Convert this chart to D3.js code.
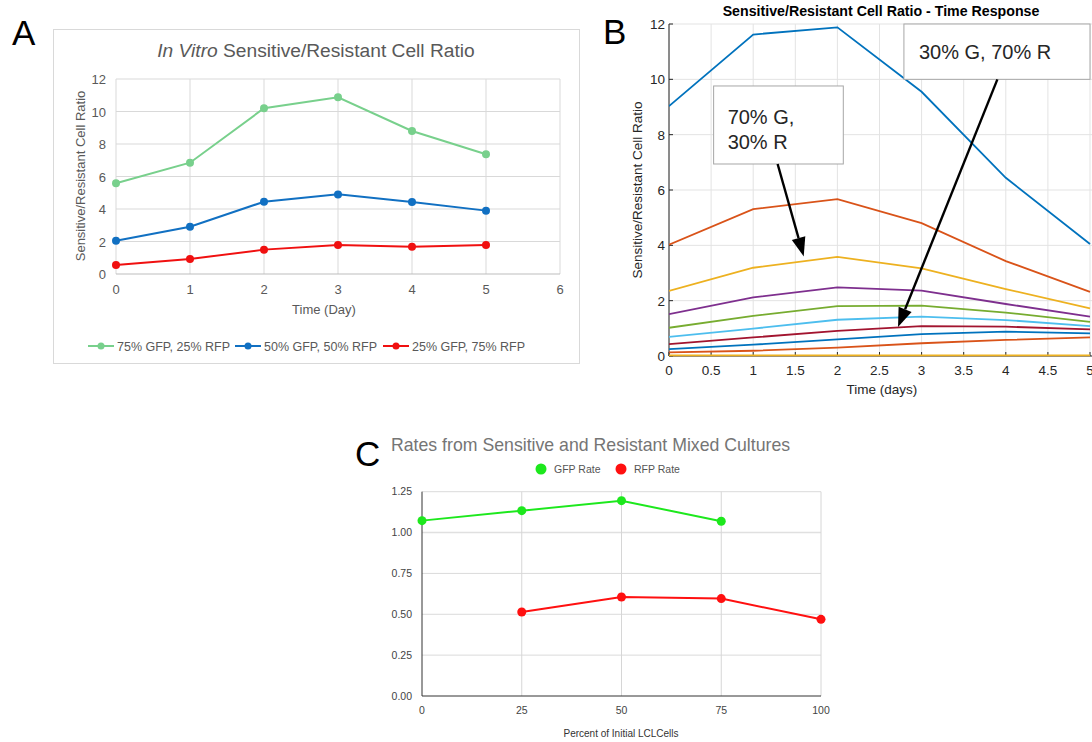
<!DOCTYPE html>
<html>
<head>
<meta charset="utf-8">
<script src="https://cdn.jsdelivr.net/npm/d3@7.9.0/dist/d3.min.js"></script>
<style>
  body { margin: 0; background: #fff; }
  svg { display: block; font-family: "Liberation Sans", Arial, sans-serif; }
</style>
</head>
<body>
<svg id="fig" width="1092" height="742"></svg>
<script>
// ---- panel A data (Google Sheets style chart)
const daysA = [0, 1, 2, 3, 4, 5];
const gfp75 = [5.58, 6.85, 10.2, 10.87, 8.8, 7.37];
const gfp50 = [2.05, 2.91, 4.45, 4.9, 4.43, 3.9];
const gfp25 = [0.55, 0.92, 1.5, 1.78, 1.68, 1.78];
const seriesNamesA = ['75% GFP, 25% RFP', '50% GFP, 50% RFP', '25% GFP, 75% RFP'];
const colorsA = ['#78d08c', '#1170c2', '#f01010'];

// ---- panel B data (MATLAB style, one line per starting mix)
const daysB = [0, 1, 2, 3, 4, 5];
const mix90 = [9.03, 11.62, 11.88, 9.55, 6.44, 4.05];
const mix80 = [4.02, 5.31, 5.67, 4.8, 3.43, 2.32];
const mix70 = [2.35, 3.19, 3.58, 3.17, 2.42, 1.72];
const mix60 = [1.51, 2.12, 2.48, 2.36, 1.88, 1.42];
const mix50 = [1.02, 1.45, 1.8, 1.82, 1.57, 1.23];
const mix40 = [0.69, 0.99, 1.31, 1.42, 1.3, 1.08];
const mix30 = [0.43, 0.67, 0.91, 1.08, 1.06, 0.96];
const mix20 = [0.25, 0.41, 0.6, 0.79, 0.88, 0.82];
const mix10 = [0.13, 0.19, 0.3, 0.46, 0.58, 0.67];
const mix0 = [0.02, 0.02, 0.02, 0.02, 0.02, 0.02];
const matlabColors = ['#0072bd', '#d95319', '#edb120', '#7e2f8e', '#77ac30', '#4dbeee', '#a2142f'];
const ticksBx = [0, 0.5, 1, 1.5, 2, 2.5, 3, 3.5, 4, 4.5, 5];
const ticksBy = [0, 2, 4, 6, 8, 10, 12];
// annotations in data units: box [x0, y0, x1, y1], arrow [fromX, fromY, toX, toY]
const noteLabels = [['70% G,', '30% R'], ['30% G, 70% R']];
const noteBoxes = [[0.53, 9.76, 2.07, 6.94], [2.79, 12.0, 5.0, 10.0]];
const noteArrows = [[1.29, 6.94, 1.6, 3.6], [3.9, 10.0, 2.72, 1.05]];

// ---- panel C data
const percentC = [0, 25, 50, 75, 100];
const gfpRate = [1.073, 1.134, 1.195, 1.069, null];
const rfpRate = [null, 0.514, 0.606, 0.596, 0.469];
const ticksCy = [0, 0.25, 0.5, 0.75, 1.0, 1.25];

const svg = d3.select('#fig');

// panel letters
[['A', 12, 45], ['B', 603, 44], ['C', 355, 466]].forEach(([t, x, y]) => {
  svg.append('text').attr('x', x).attr('y', y).attr('font-size', 35)
    .attr('fill', '#000').text(t);
});

// ================= Panel A =================
(function drawA() {
  const g = svg.append('g');
  g.append('rect').attr('x', 53.5).attr('y', 29.5).attr('width', 526).attr('height', 334)
    .attr('fill', '#fff').attr('stroke', '#d9d9d9');

  const x = d3.scaleLinear().domain([0, 6]).range([116, 560]);
  const y = d3.scaleLinear().domain([0, 12]).range([274, 79]);

  // grid
  g.append('g').selectAll('line').data(d3.range(0, 7)).join('line')
    .attr('x1', d => x(d)).attr('x2', d => x(d)).attr('y1', y(0)).attr('y2', y(12))
    .attr('stroke', '#d9d9d9');
  g.append('g').selectAll('line').data(d3.range(0, 13, 2)).join('line')
    .attr('x1', x(0)).attr('x2', x(6)).attr('y1', d => y(d)).attr('y2', d => y(d))
    .attr('stroke', d => d === 0 ? '#bdbdbd' : '#d9d9d9');

  g.append('g').selectAll('text').data(d3.range(0, 13, 2)).join('text')
    .attr('x', 106).attr('y', d => y(d) + 5).attr('text-anchor', 'end')
    .attr('font-size', 13).attr('fill', '#595959').text(d => d);
  g.append('g').selectAll('text').data(d3.range(0, 7)).join('text')
    .attr('x', d => x(d)).attr('y', 294).attr('text-anchor', 'middle')
    .attr('font-size', 13).attr('fill', '#595959').text(d => d);

  const title = g.append('text').attr('x', 316).attr('y', 57).attr('text-anchor', 'middle')
    .attr('font-size', 19.2).attr('fill', '#595959');
  title.append('tspan').attr('font-style', 'italic').text('In Vitro');
  title.append('tspan').text(' Sensitive/Resistant Cell Ratio');

  g.append('text').attr('transform', 'translate(85,176) rotate(-90)').attr('text-anchor', 'middle')
    .attr('font-size', 13).attr('fill', '#595959').text('Sensitive/Resistant Cell Ratio');
  g.append('text').attr('x', 324).attr('y', 314).attr('text-anchor', 'middle')
    .attr('font-size', 13).attr('fill', '#595959').text('Time (Day)');

  const line = d3.line().x((d, i) => x(daysA[i])).y(d => y(d));
  [gfp75, gfp50, gfp25].forEach((vals, k) => {
    g.append('path').attr('d', line(vals)).attr('fill', 'none')
      .attr('stroke', colorsA[k]).attr('stroke-width', 2);
    g.append('g').selectAll('circle').data(vals).join('circle')
      .attr('cx', (d, i) => x(daysA[i])).attr('cy', d => y(d)).attr('r', 4)
      .attr('fill', colorsA[k]);
  });

  // legend
  const legX = [88, 235, 383];
  seriesNamesA.forEach((name, k) => {
    const lg = g.append('g').attr('transform', `translate(${legX[k]},346)`);
    lg.append('line').attr('x1', 0).attr('x2', 26).attr('stroke', colorsA[k]).attr('stroke-width', 2);
    lg.append('circle').attr('cx', 13).attr('r', 3.5).attr('fill', colorsA[k]);
    lg.append('text').attr('x', 29).attr('y', 4.5).attr('font-size', 12.5)
      .attr('fill', '#595959').text(name);
  });
})();

// ================= Panel B =================
(function drawB() {
  const g = svg.append('g');
  const x = d3.scaleLinear().domain([0, 5]).range([669, 1090]);
  const y = d3.scaleLinear().domain([0, 12]).range([356, 24]);

  g.append('clipPath').attr('id', 'clipB').append('rect')
    .attr('x', 669).attr('y', 20).attr('width', 423).attr('height', 340);

  g.append('g').selectAll('line').data(ticksBx).join('line')
    .attr('x1', d => x(d)).attr('x2', d => x(d)).attr('y1', y(0)).attr('y2', y(12))
    .attr('stroke', '#e3e3e3');
  g.append('g').selectAll('line').data(ticksBy).join('line')
    .attr('x1', x(0)).attr('x2', 1092).attr('y1', d => y(d)).attr('y2', d => y(d))
    .attr('stroke', '#e3e3e3');

  // axes, MATLAB style with inward ticks
  const ax = g.append('g').attr('stroke', '#262626');
  ax.append('line').attr('x1', x(0)).attr('x2', 1092).attr('y1', y(0)).attr('y2', y(0));
  ax.append('line').attr('x1', x(0)).attr('x2', x(0)).attr('y1', y(0)).attr('y2', y(12));
  ax.selectAll('.tx').data(ticksBx).join('line').attr('class', 'tx')
    .attr('x1', d => x(d)).attr('x2', d => x(d)).attr('y1', y(0)).attr('y2', y(0) - 4);
  ax.selectAll('.ty').data(ticksBy).join('line').attr('class', 'ty')
    .attr('x1', x(0)).attr('x2', x(0) + 4).attr('y1', d => y(d)).attr('y2', d => y(d));

  const mixes = [mix90, mix80, mix70, mix60, mix50, mix40, mix30, mix20, mix10, mix0];
  const line = d3.line().x((d, i) => x(daysB[i])).y(d => y(d));
  const lines = g.append('g').attr('clip-path', 'url(#clipB)');
  mixes.forEach((vals, k) => {
    lines.append('path').attr('d', line(vals)).attr('fill', 'none')
      .attr('stroke', matlabColors[k % matlabColors.length]).attr('stroke-width', 1.8);
  });

  g.append('g').selectAll('text').data(ticksBx).join('text')
    .attr('x', d => x(d)).attr('y', 375).attr('text-anchor', 'middle')
    .attr('font-size', 13.5).attr('fill', '#262626').text(d => d);
  g.append('g').selectAll('text').data(ticksBy).join('text')
    .attr('x', 665).attr('y', d => y(d) + 5).attr('text-anchor', 'end')
    .attr('font-size', 13.5).attr('fill', '#262626').text(d => d);

  g.append('text').attr('x', 881).attr('y', 16).attr('text-anchor', 'middle')
    .attr('font-size', 14.2).attr('font-weight', 'bold').attr('fill', '#000')
    .text('Sensitive/Resistant Cell Ratio - Time Response');
  g.append('text').attr('x', 882).attr('y', 394).attr('text-anchor', 'middle')
    .attr('font-size', 13.5).attr('fill', '#262626').text('Time (days)');
  g.append('text').attr('transform', 'translate(642,190) rotate(-90)').attr('text-anchor', 'middle')
    .attr('font-size', 13.5).attr('fill', '#262626').text('Sensitive/Resistant Cell Ratio');

  // annotations
  noteBoxes.forEach((b, k) => {
    g.append('rect').attr('x', x(b[0])).attr('y', y(b[1]))
      .attr('width', x(b[2]) - x(b[0])).attr('height', y(b[3]) - y(b[1]))
      .attr('fill', '#fff').attr('stroke', '#a6a6a6');
    const t = g.append('text').attr('font-size', 20).attr('fill', '#262626');
    noteLabels[k].forEach((s, j) => {
      t.append('tspan').attr('x', x(b[0]) + (k === 0 ? 14 : 15))
        .attr('y', y(b[1]) + (k === 0 ? 38 + j * 25 : 35)).text(s);
    });
  });
  noteArrows.forEach(a => {
    const x1 = x(a[0]), y1 = y(a[1]), x2 = x(a[2]), y2 = y(a[3]);
    const ang = Math.atan2(y2 - y1, x2 - x1);
    const len = 19, half = 7;
    const bx = x2 - len * Math.cos(ang), by = y2 - len * Math.sin(ang);
    g.append('line').attr('x1', x1).attr('y1', y1).attr('x2', bx).attr('y2', by)
      .attr('stroke', '#000').attr('stroke-width', 2.4);
    const px = -Math.sin(ang) * half, py = Math.cos(ang) * half;
    g.append('path')
      .attr('d', `M${x2},${y2}L${bx + px},${by + py}L${bx - px},${by - py}Z`)
      .attr('fill', '#000');
  });
})();

// ================= Panel C =================
(function drawC() {
  const g = svg.append('g');
  const x = d3.scaleLinear().domain([0, 100]).range([422, 821]);
  const y = d3.scaleLinear().domain([0, 1.25]).range([696, 491.7]);

  g.append('g').selectAll('line').data(ticksCy.slice(1)).join('line')
    .attr('x1', x(0)).attr('x2', x(100)).attr('y1', d => y(d)).attr('y2', d => y(d))
    .attr('stroke', d => d === 1 ? '#e0e0e0' : '#dadada')
    .attr('stroke-width', d => d === 1 ? 1.6 : 1);
  g.append('g').selectAll('line').data(percentC.slice(1)).join('line')
    .attr('x1', d => x(d)).attr('x2', d => x(d)).attr('y1', y(0)).attr('y2', y(1.25))
    .attr('stroke', '#d6d6d6');
  g.append('line').attr('x1', x(0)).attr('x2', x(0)).attr('y1', y(0)).attr('y2', y(1.25))
    .attr('stroke', '#333');
  g.append('line').attr('x1', x(0)).attr('x2', x(100)).attr('y1', y(0)).attr('y2', y(0))
    .attr('stroke', '#333');

  g.append('g').selectAll('text').data(ticksCy).join('text')
    .attr('x', 412).attr('y', d => y(d) + 3.5).attr('text-anchor', 'end')
    .attr('font-size', 10.5).attr('fill', '#444').text(d => d3.format('.2f')(d));
  g.append('g').selectAll('text').data(percentC).join('text')
    .attr('x', d => x(d)).attr('y', 714).attr('text-anchor', 'middle')
    .attr('font-size', 10.5).attr('fill', '#444').text(d => d);

  g.append('text').attr('x', 391).attr('y', 451)
    .attr('font-size', 17.7).attr('fill', '#757575')
    .text('Rates from Sensitive and Resistant Mixed Cultures');
  g.append('text').attr('x', 621).attr('y', 737).attr('text-anchor', 'middle')
    .attr('font-size', 10).attr('fill', '#333').text('Percent of Initial LCLCells');

  const colorsC = ['#1de81d', '#ff1010'];
  const line = d3.line().defined(d => d != null).x((d, i) => x(percentC[i])).y(d => y(d));
  [gfpRate, rfpRate].forEach((vals, k) => {
    g.append('path').attr('d', line(vals)).attr('fill', 'none')
      .attr('stroke', colorsC[k]).attr('stroke-width', 2);
    g.append('g').selectAll('circle')
      .data(vals.map((v, i) => [percentC[i], v]).filter(d => d[1] != null)).join('circle')
      .attr('cx', d => x(d[0])).attr('cy', d => y(d[1])).attr('r', 4.5).attr('fill', colorsC[k]);
  });

  [['GFP Rate', 541], ['RFP Rate', 621]].forEach(([name, cx], k) => {
    g.append('circle').attr('cx', cx).attr('cy', 469).attr('r', 5.5).attr('fill', colorsC[k]);
    g.append('text').attr('x', cx + 13).attr('y', 472.5).attr('font-size', 10.5)
      .attr('fill', '#555').text(name);
  });
})();
</script>
</body>
</html>
